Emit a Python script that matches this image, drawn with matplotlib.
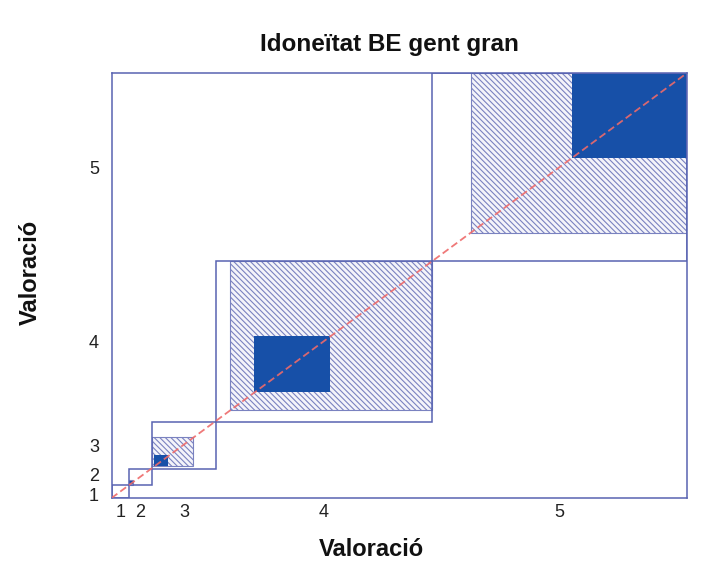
import numpy as np
import matplotlib
matplotlib.use("Agg")
import matplotlib.pyplot as plt
import matplotlib.transforms as mtransforms
from matplotlib.patches import Rectangle

# Agreement chart: rows = rating on x axis, columns = rating on y axis (% of cases)
categories = ["1", "2", "3", "4", "5"]
row_1 = [0.0, 0.2, 0.8, 1.0, 1.0]
row_2 = [0.0, 0.7, 0.0, 1.8, 1.6]
row_3 = [0.0, 0.2, 2.5, 4.3, 4.0]
row_4 = [1.3, 1.1, 4.3, 13.2, 17.7]
row_5 = [1.8, 1.5, 3.4, 17.6, 20.0]

title = "Idoneïtat BE gent gran"
axis_label = "Valoració"

plt.rcParams["font.family"] = ["Liberation Sans", "DejaVu Sans"]
plt.rcParams["hatch.linewidth"] = 0.8

line_col = "#5863b2"
hatch_col = "#7a82c0"
dark_col = "#1750a8"
diag_col = "#ee6a6a"

table = np.array([row_1, row_2, row_3, row_4, row_5])
row_tot = table.sum(axis=1)
col_tot = table.sum(axis=0)
xe = np.concatenate([[0], np.cumsum(row_tot)])
ye = np.concatenate([[0], np.cumsum(col_tot)])
total = table.sum()

fig = plt.figure(figsize=(7.15, 5.76), dpi=100)
ax = fig.add_axes([0.156, 0.1354, 0.805, 0.738])

n = len(categories)
for k in range(n):
    x0, y0 = xe[k], ye[k]
    # partial agreement: neighbouring categories
    lo, hi = max(k - 1, 0), min(k + 1, n - 1)
    px = x0 + table[k, :lo].sum()
    pw = table[k, lo:hi + 1].sum()
    py = y0 + table[:lo, k].sum()
    ph = table[lo:hi + 1, k].sum()
    ax.add_patch(Rectangle((px, py), pw, ph, facecolor="#f4f4fa",
                           edgecolor=hatch_col, hatch="\\" * 6, lw=0.8, zorder=1))
    # exact agreement
    dx = x0 + table[k, :k].sum()
    dy = y0 + table[:k, k].sum()
    d = table[k, k]
    ax.add_patch(Rectangle((dx, dy), d, d, facecolor=dark_col, edgecolor="none", zorder=2))
    # marginal rectangle
    ax.add_patch(Rectangle((x0, y0), row_tot[k], col_tot[k], fill=False,
                           edgecolor=line_col, lw=1.1, zorder=3))

ax.plot([0, total], [0, total], color=diag_col, lw=1.3, ls=(0, (4, 2)),
        alpha=0.9, zorder=4)

ax.set_xlim(0, total)
ax.set_ylim(0, total)
for s in ax.spines.values():
    s.set_color(line_col)
    s.set_linewidth(1.1)

ax.set_xticks((xe[:-1] + xe[1:]) / 2, categories)
ax.set_yticks((ye[:-1] + ye[1:]) / 2, categories)
ax.tick_params(axis="both", length=0, labelsize=13, colors="#222222")
ax.tick_params(axis="x", pad=4)
ax.tick_params(axis="y", pad=9)

# the two lowest y labels sit very close, spread them a little
ylabels = ax.get_yticklabels()
for lab, dy_pt in [(ylabels[0], -2), (ylabels[1], 1.5)]:
    lab.set_transform(lab.get_transform() +
                      mtransforms.ScaledTranslation(0, dy_pt / 72, fig.dpi_scale_trans))

fig.text(0.545, 1 - 45 / 576, title, ha="center", va="center",
         fontsize=17.5, fontweight="bold", color="#111111")
fig.text(0.519, 1 - 550 / 576, axis_label, ha="center", va="center",
         fontsize=17, fontweight="bold", color="#111111")
fig.text(0.042, 1 - 272 / 576, axis_label, ha="center", va="center",
         rotation=90, fontsize=17, fontweight="bold", color="#111111")

fig.savefig("out.png", dpi=100, facecolor="white")
